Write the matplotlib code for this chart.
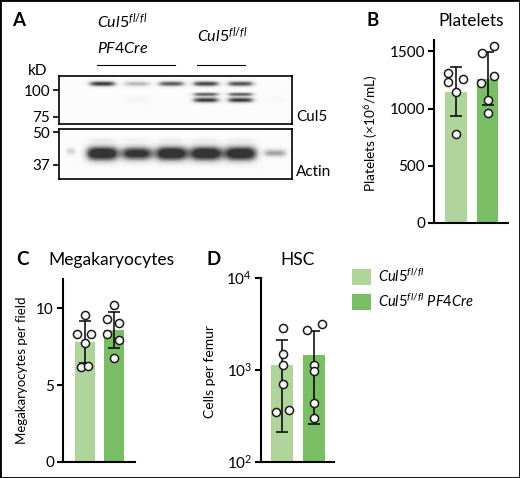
import numpy as np
import matplotlib
matplotlib.use("Agg")
import matplotlib.pyplot as plt
import matplotlib.transforms as mtransforms
from matplotlib.patches import Rectangle
from matplotlib.ticker import NullLocator

plt.rcParams["font.family"] = ["Lato", "DejaVu Sans"]
plt.rcParams["mathtext.fontset"] = "custom"
plt.rcParams["mathtext.rm"] = "Lato"
plt.rcParams["mathtext.it"] = "Lato:italic"
plt.rcParams["mathtext.bf"] = "Lato:bold"

# ---- data ----
groups = ["Cul5 fl/fl", "Cul5 fl/fl PF4Cre"]
colors = ["#afd59c", "#79bd65"]

platelets_ctrl = [1312, 1232, 1258, 1147, 778]
platelets_cre = [1486, 1544, 1225, 1284, 1073, 965]
platelets_mean = [1147, 1263]
platelets_sd = [213, 228]

mk_ctrl = [9.57, 8.30, 8.30, 7.72, 6.20, 6.24]
mk_cre = [10.22, 9.30, 9.02, 8.30, 7.93, 6.74]
mk_mean = [7.83, 8.59]
mk_sd = [1.38, 1.20]

hsc_ctrl = [2848, 1482, 1135, 698, 345, 366]
hsc_cre = [2729, 3176, 1135, 959, 433, 297]
hsc_mean = [1135, 1446]
hsc_err_lo = [926, 1191]
hsc_err_hi = [985, 1214]

# western blot bands: lane index, apparent size (kD), strength
cul5_lanes = [1, 2, 3, 4, 5, 4, 5, 4, 5, 2, 6]
cul5_kd = [107, 107, 107, 107, 107, 95.5, 95.5, 89.8, 89.8, 90, 90]
cul5_strength = [1.0, 0.45, 0.85, 0.95, 0.9, 0.8, 0.8, 1.0, 1.0, 0.07, 0.04]

actin_lanes = [0.09, 1, 2, 3, 4, 5, 6, 1, 2, 3, 4, 5]
actin_kd = [42, 41.1, 41.1, 41.1, 41.1, 41.1, 41.3, 46.6, 46.6, 46.6, 46.6, 46.6]
actin_strength = [0.3, 1.3, 1.15, 1.3, 1.3, 1.3, 0.55, 0.12, 0.08, 0.1, 0.1, 0.1]

cul5_markers = [100, 75]
actin_markers = [50, 37]

# jitter of the dots inside each bar
jit_plt = [[-0.24, -0.24, 0.22, 0.0, 0.0], [-0.19, 0.21, -0.22, 0.21, 0.0, 0.0]]
jit_mk = [[0.0, -0.24, 0.21, 0.0, -0.12, 0.13], [0.0, -0.23, 0.18, -0.23, 0.18, 0.0]]
jit_hsc = [[0.04, 0.04, 0.04, 0.04, -0.2, 0.23], [-0.21, 0.25, 0.02, 0.02, 0.02, 0.02]]

W, H = 520, 478
fig = plt.figure(figsize=(5.2, 4.78), dpi=100)


def box(x0, y0, x1, y1):
    return [x0 / W, 1 - y1 / H, (x1 - x0) / W, (y1 - y0) / H]


def ftext(x, y, s, **kw):
    fig.text(x / W, 1 - y / H, s, va="baseline", ha="left", **kw)


# ---- panel A: blot ----
def draw_blot(ax, lanes, kd, strength, wx, wy, ylim, markers):
    xs = np.linspace(-0.25, 6.5, 500)
    ys = np.logspace(np.log10(ylim[0]), np.log10(ylim[1]), 240)
    X, Y = np.meshgrid(xs, ys)
    img = np.zeros_like(X)
    for ln, k, s, a, b in zip(lanes, kd, strength, wx, wy):
        img += s * np.exp(-np.abs((X - ln) / a) ** 4) * \
            np.exp(-((np.log10(Y) - np.log10(k)) / b) ** 2)
    ax.pcolormesh(xs, ys, 0.03 + 0.8 * np.clip(img, 0, 1), cmap="Greys",
                  vmin=0, vmax=1, shading="auto", rasterized=True)
    ax.set_yscale("log")
    ax.set_xlim(-0.25, 6.5)
    ax.set_ylim(*ylim)
    ax.set_yticks(markers)
    ax.set_yticklabels([str(m) for m in markers])
    ax.yaxis.set_minor_locator(NullLocator())
    ax.set_xticks([])
    ax.tick_params(axis="y", length=4.5, width=1.2, labelsize=11, pad=2)
    for sp in ax.spines.values():
        sp.set_linewidth(1.2)


ax_c5 = fig.add_axes(box(59.3, 76, 292.3, 124.3))
draw_blot(ax_c5, cul5_lanes, cul5_kd, cul5_strength,
          [0.39] * 11, [0.013] * 5 + [0.009, 0.009, 0.013, 0.013, 0.015, 0.015],
          (69.1, 116.3), cul5_markers)

ax_ac = fig.add_axes(box(59.3, 129.3, 292.3, 179.3))
draw_blot(ax_ac, actin_lanes, actin_kd, actin_strength,
          [0.14, 0.48, 0.46, 0.48, 0.48, 0.48, 0.34] + [0.38] * 5,
          [0.014, 0.03, 0.028, 0.03, 0.03, 0.03, 0.016] + [0.008] * 5,
          (32.4, 51.4), actin_markers)

trans = mtransforms.blended_transform_factory(ax_c5.transData, ax_c5.transAxes)
ax_c5.plot([0.84, 3.10], [1.228, 1.228], color="black", lw=0.8,
           transform=trans, clip_on=False)
ax_c5.plot([3.74, 5.13], [1.228, 1.228], color="black", lw=0.8,
           transform=trans, clip_on=False)
ax_c5.text(0.84, 2.008, r"$\mathit{Cul5}^{\mathit{fl/fl}}$", transform=trans,
           fontsize=11.5, va="baseline")
ax_c5.text(0.84, 1.470, r"$\mathit{PF4Cre}$", transform=trans,
           fontsize=11.5, va="baseline")
ax_c5.text(3.74, 1.710, r"$\mathit{Cul5}^{\mathit{fl/fl}}$", transform=trans,
           fontsize=11.5, va="baseline")

ftext(28, 75, "kD", fontsize=11)
ftext(296, 120.7, "Cul5", fontsize=11)
ftext(296, 175.7, "Actin", fontsize=11)


# ---- bar panels ----
def bar_panel(ax, pts, mean, err, jit, xlim):
    x = np.arange(2)
    bars = ax.bar(x, mean, width=0.68, color=colors, zorder=1)
    ax.errorbar(x, mean, yerr=err, fmt="none", ecolor="black", elinewidth=1.1,
                capsize=4, capthick=1.1, zorder=2)
    for i in range(2):
        ax.scatter(i + np.array(jit[i]), pts[i], s=34, facecolors="white",
                   edgecolors="#1a1a1a", linewidths=1.1, zorder=3)
    ax.set_xlim(*xlim)
    ax.set_xticks([])
    for sp in ["top", "right"]:
        ax.spines[sp].set_visible(False)
    for sp in ["left", "bottom"]:
        ax.spines[sp].set_linewidth(1.5)
    ax.tick_params(axis="y", length=4.5, width=1.5, labelsize=11, pad=2)
    return bars


ax_b = fig.add_axes(box(434, 40, 508, 223))
bars = bar_panel(ax_b, [platelets_ctrl, platelets_cre], platelets_mean,
                 platelets_sd, jit_plt, (-0.7, 1.65))
ax_b.set_ylim(0, 1600)
ax_b.set_yticks([0, 500, 1000, 1500])
ax_b.set_ylabel(r"Platelets ($\times$10$^{6}$/mL)", fontsize=9.8)
ax_b.yaxis.set_label_coords(-0.73, 0.49)

ax_cc = fig.add_axes(box(63, 279.3, 135, 461.7))
bar_panel(ax_cc, [mk_ctrl, mk_cre], mk_mean, mk_sd, jit_mk, (-0.73, 1.71))
ax_cc.set_ylim(0, 11.9)
ax_cc.set_yticks([0, 5, 10])
ax_cc.set_ylabel("Megakaryocytes per field", fontsize=9.5)
ax_cc.yaxis.set_label_coords(-0.49, 0.5)

ax_d = fig.add_axes(box(261, 277.7, 334, 461.7))
ax_d.set_yscale("log")
bar_panel(ax_d, [hsc_ctrl, hsc_cre], hsc_mean, [hsc_err_lo, hsc_err_hi],
          jit_hsc, (-0.67, 1.64))
ax_d.set_ylim(100, 10000)
ax_d.set_yticks([100, 1000, 10000])
ax_d.yaxis.set_minor_locator(NullLocator())
ax_d.set_ylabel("Cells per femur", fontsize=10)
ax_d.yaxis.set_label_coords(-0.61, 0.49)

fig.legend(list(bars), [r"$\mathit{Cul5}^{\mathit{fl/fl}}$",
                        r"$\mathit{Cul5}^{\mathit{fl/fl}}\ \mathit{PF4Cre}$"],
           loc="upper left", bbox_to_anchor=(351.7 / W, 1 - 268 / H),
           frameon=False, fontsize=10.5, handlelength=1.3, handleheight=1.3,
           labelspacing=0.5, handletextpad=0.5, borderpad=0, borderaxespad=0)

# ---- titles and panel letters ----
ftext(12, 26, "A", fontsize=13.5, fontweight="bold")
ftext(367, 26, "B", fontsize=13.5, fontweight="bold")
ftext(438, 26, "Platelets", fontsize=12.5)
ftext(16, 265, "C", fontsize=13.5, fontweight="bold")
ftext(48, 265, "Megakaryocytes", fontsize=12.5)
ftext(206, 265, "D", fontsize=13.5, fontweight="bold")
ftext(280, 265, "HSC", fontsize=12.5)

fig.patches.append(Rectangle((0, 0), 1, 1, transform=fig.transFigure,
                             fill=False, ec="black", lw=2))

fig.savefig("out.png", dpi=100)
